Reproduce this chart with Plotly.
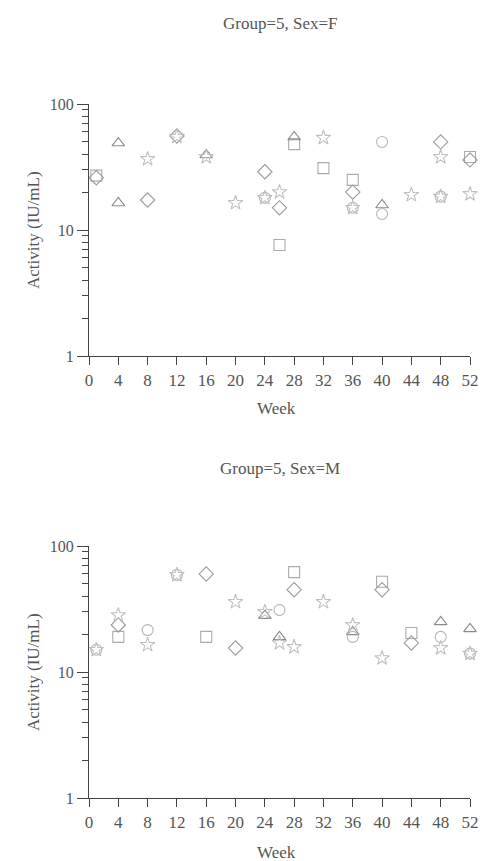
import plotly.graph_objects as go

W, H = 480, 861

# ---------------- data (Week, Activity IU/mL) ----------------
# Sex = F
f_square_wk = [1, 26, 28, 32, 36, 52]
f_square_val = [27, 7.6, 48, 31, 25, 38]
f_tri_wk = [4, 4, 16, 28, 40]
f_tri_val = [49, 16.4, 39.4, 54.7, 15.8]
f_dia_wk = [1, 8, 12, 24, 26, 36, 48, 52]
f_dia_val = [26, 17.3, 55.7, 29, 15, 20, 50, 36]
f_circ_wk = [24, 36, 40, 40, 48]
f_circ_val = [18, 15, 50, 13.4, 18.4]
f_star_wk = [8, 12, 16, 20, 24, 26, 32, 36, 44, 48, 48, 52]
f_star_val = [36.6, 55, 38, 16.4, 18, 20, 54, 15, 19, 38, 18.4, 19.3]

# Sex = M
m_square_wk = [4, 16, 28, 40, 44]
m_square_val = [19, 19, 62, 52, 20.4]
m_tri_wk = [24, 26, 36, 48, 52]
m_tri_val = [28, 19, 20.8, 25, 22]
m_dia_wk = [4, 16, 20, 28, 40, 44]
m_dia_val = [23.6, 60, 15.5, 45, 45, 17]
m_circ_wk = [1, 8, 12, 26, 36, 48, 52]
m_circ_val = [15, 21.5, 59, 31, 19, 19, 14]
m_star_wk = [1, 4, 8, 12, 20, 24, 26, 28, 32, 36, 40, 48, 52]
m_star_val = [15, 28.3, 16.4, 59, 36, 30, 17, 15.8, 36, 23.6, 12.9, 15.5, 14]

week_ticks = list(range(0, 53, 4))
y_major = [1, 10, 100]
y_minor = [2, 3, 4, 5, 6, 7, 8, 9, 20, 30, 40, 50, 60, 70, 80, 90]

panel_titles = ["Group=5, Sex=F", "Group=5, Sex=M"]

# ---------------- figure ----------------
FONT = "Liberation Serif, Times New Roman, serif"
TXT = "#555555"
AX = "#444444"

styles = {
    "square": ("square-open", "#ababab"),
    "tri": ("triangle-up-open", "#8a8a8a"),
    "dia": ("diamond-open", "#9c9c9c"),
    "circ": ("circle-open", "#b6b6b6"),
    "star": ("star-open", "#c0c0c0"),
}

fig = go.Figure()

panels = [
    ("x", "y", [("square", f_square_wk, f_square_val), ("tri", f_tri_wk, f_tri_val),
                ("dia", f_dia_wk, f_dia_val), ("circ", f_circ_wk, f_circ_val),
                ("star", f_star_wk, f_star_val)]),
    ("x2", "y2", [("square", m_square_wk, m_square_val), ("tri", m_tri_wk, m_tri_val),
                  ("dia", m_dia_wk, m_dia_val), ("circ", m_circ_wk, m_circ_val),
                  ("star", m_star_wk, m_star_val)]),
]

for xa, ya, series in panels:
    for key, wk, val in series:
        sym, col = styles[key]
        fig.add_trace(go.Scatter(
            x=wk, y=val, mode="markers", xaxis=xa, yaxis=ya, cliponaxis=False,
            showlegend=False, hoverinfo="x+y",
            marker=dict(symbol=sym, size=11, color=col, line=dict(width=1.1, color=col)),
        ))

def py(px):
    return 1 - px / H

dom_top = [py(356), py(104)]
dom_bot = [py(798), py(546)]

xcommon = dict(range=[0, 52], tickvals=week_ticks, ticks="outside", ticklen=8, tickwidth=1,
               tickcolor=AX, showline=True, linecolor=AX, linewidth=1.2, showgrid=False,
               zeroline=False, tickfont=dict(family=FONT, size=17, color=TXT),
               automargin=False, domain=[0, 1])
ycommon = dict(type="log", range=[0, 2], tickvals=y_major, ticktext=[str(v) for v in y_major],
               ticks="outside", ticklen=11, tickwidth=1, tickcolor=AX, showline=True,
               linecolor=AX, linewidth=1.2, showgrid=False, zeroline=False,
               tickfont=dict(family=FONT, size=16, color=TXT), automargin=False,
               minor=dict(tickvals=y_minor, ticks="outside", ticklen=6, tickwidth=1,
                          tickcolor=AX, showgrid=False))

fig.update_layout(
    width=W, height=H,
    margin=dict(l=89, r=10, t=0, b=0),
    paper_bgcolor="white", plot_bgcolor="white",
    xaxis=dict(**xcommon, anchor="y"),
    yaxis=dict(**ycommon, domain=dom_top, anchor="x"),
    xaxis2=dict(**xcommon, anchor="y2"),
    yaxis2=dict(**ycommon, domain=dom_bot, anchor="x2"),
)

def xpaper(px):
    return (px - 89) / (W - 89 - 10)

ann = []
for title, ty, wy, cy in [(panel_titles[0], 24, 408, 230), (panel_titles[1], 468, 852, 672)]:
    ann.append(dict(text=title, x=xpaper(280), y=py(ty), xref="paper", yref="paper",
                    showarrow=False, xanchor="center", yanchor="middle",
                    font=dict(family=FONT, size=17, color=TXT)))
    ann.append(dict(text="Week", x=xpaper(276), y=py(wy), xref="paper", yref="paper",
                    showarrow=False, xanchor="center", yanchor="middle",
                    font=dict(family=FONT, size=17, color=TXT)))
    ann.append(dict(text="Activity (IU/mL)", x=xpaper(33), y=py(cy), xref="paper", yref="paper",
                    showarrow=False, xanchor="center", yanchor="middle", textangle=-90,
                    font=dict(family=FONT, size=17, color=TXT)))
fig.update_layout(annotations=ann)

fig.write_html(
    "out.html",
    config={"displayModeBar": False},
    post_script="document.body.style.margin='0';document.body.style.overflow='hidden';"
                "document.documentElement.style.overflow='hidden';",
)
